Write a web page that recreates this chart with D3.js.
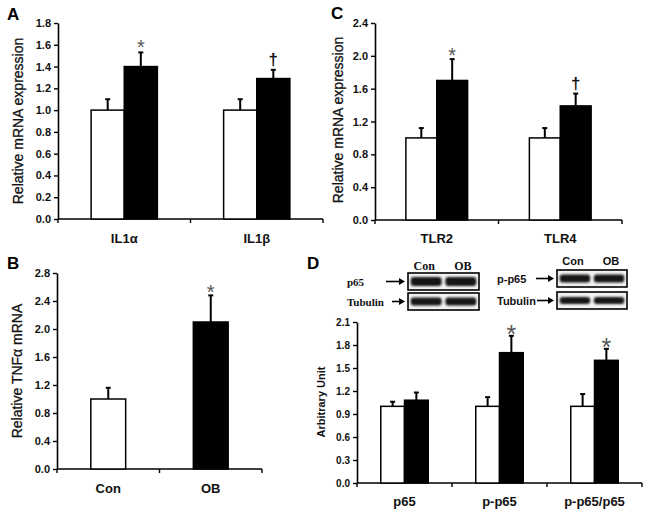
<!DOCTYPE html>
<html><head><meta charset="utf-8">
<script src="https://cdn.jsdelivr.net/npm/d3@7/dist/d3.min.js"></script>
<style>
html,body{margin:0;padding:0;background:#fff;}
svg{display:block;font-family:"Liberation Sans",Arial,sans-serif;}
</style></head>
<body>
<svg id="fig" width="649" height="517"></svg>
<script>
// ---------- DATA ----------
const groups = ["Con", "OB"];

// Panel A
const aCategories = ["IL1α", "IL1β"];
const aCon = [1.0, 1.0];
const aConErr = [0.10, 0.10];
const aOB = [1.40, 1.29];
const aOBErr = [0.13, 0.08];
const aMarks = ["*", "†"];
const aTicks = [0, 0.2, 0.4, 0.6, 0.8, 1.0, 1.2, 1.4, 1.6, 1.8];

// Panel B
const bCategories = ["Con", "OB"];
const bValues = [1.0, 2.1];
const bErr = [0.16, 0.38];
const bMarks = ["", "*"];
const bTicks = [0, 0.4, 0.8, 1.2, 1.6, 2.0, 2.4, 2.8];

// Panel C
const cCategories = ["TLR2", "TLR4"];
const cCon = [1.0, 1.0];
const cConErr = [0.12, 0.12];
const cOB = [1.70, 1.39];
const cOBErr = [0.26, 0.15];
const cMarks = ["*", "†"];
const cTicks = [0, 0.4, 0.8, 1.2, 1.6, 2.0, 2.4];

// Panel D
const dCategories = ["p65", "p-p65", "p-p65/p65"];
const dCon = [1.0, 1.0, 1.0];
const dConErr = [0.06, 0.12, 0.16];
const dOB = [1.08, 1.70, 1.60];
const dOBErr = [0.10, 0.22, 0.15];
const dMarks = ["", "*", "*"];
const dTicks = [0, 0.3, 0.6, 0.9, 1.2, 1.5, 1.8, 2.1];

// Western blot rows
const blotLeftRows = ["p65", "Tubulin"];
const blotRightRows = ["p-p65", "Tubulin"];

// ---------- DRAW ----------
const svg = d3.select("#fig");
const defs = svg.append("defs");
defs.append("filter").attr("id", "blur").attr("x", "-20%").attr("y", "-60%").attr("width", "140%").attr("height", "220%")
  .append("feGaussianBlur").attr("stdDeviation", 1.2);

function panel(o) {
  const g = svg.append("g");
  const y = d3.scaleLinear().domain([0, o.ticks[o.ticks.length - 1]]).range([o.y1, o.y0]);
  const x = d3.scaleBand().domain(o.categories).range([o.x0, o.x1]);

  // y axis
  const ya = d3.axisLeft(y).tickValues(o.ticks).tickSize(4).tickSizeOuter(0).tickPadding(3)
    .tickFormat(d3.format(".1f"));
  const yg = g.append("g").attr("transform", `translate(${o.x0},0)`).call(ya);
  yg.select(".domain").attr("stroke-width", 1.6);
  yg.selectAll(".tick line").attr("stroke-width", 1.4);
  yg.selectAll("text").attr("font-size", o.tickFont).attr("font-weight", "bold")
    .attr("font-family", "Liberation Sans, Arial, sans-serif").attr("fill", "#111");

  // x axis line with ticks at band boundaries
  g.append("line").attr("x1", o.x0).attr("x2", o.x1).attr("y1", o.y1).attr("y2", o.y1)
    .attr("stroke", "#000").attr("stroke-width", 1.6);
  const bounds = o.categories.map(c => x(c)).concat([x(o.categories[o.categories.length - 1]) + x.bandwidth()]);
  g.selectAll(".xt").data(bounds).join("line").attr("x1", d => d).attr("x2", d => d)
    .attr("y1", o.y1).attr("y2", o.y1 + 4).attr("stroke", "#000").attr("stroke-width", 1.4);
  g.selectAll(".xl").data(o.categories).join("text")
    .attr("x", d => x(d) + x.bandwidth() / 2).attr("y", o.xLabelY)
    .attr("text-anchor", "middle").attr("font-size", 13).attr("font-weight", "bold").attr("fill", "#111")
    .text(d => d);

  // bars
  const bw = x.bandwidth() * o.barFrac;
  const bars = [];
  o.categories.forEach((c, i) => {
    o.series.forEach((s, j) => {
      const cx = x(c) + x.bandwidth() / 2 + (o.series.length === 1 ? -bw / 2 : (j - 1) * bw);
      bars.push({ x: cx, v: s.values[i], e: s.err[i], fill: s.fill ? s.fill[i] : s.color, mark: s.marks ? s.marks[i] : "" });
    });
  });
  const bg = g.append("g");
  bg.selectAll(".eb").data(bars).join("line")
    .attr("x1", d => d.x + bw / 2).attr("x2", d => d.x + bw / 2)
    .attr("y1", d => y(d.v)).attr("y2", d => y(d.v + d.e)).attr("stroke", "#000").attr("stroke-width", 2);
  bg.selectAll(".ec").data(bars).join("line")
    .attr("x1", d => d.x + bw / 2 - 2.5).attr("x2", d => d.x + bw / 2 + 2.5)
    .attr("y1", d => y(d.v + d.e)).attr("y2", d => y(d.v + d.e)).attr("stroke", "#000").attr("stroke-width", 2);
  bg.selectAll(".bar").data(bars).join("rect")
    .attr("x", d => d.x).attr("width", bw).attr("y", d => y(d.v)).attr("height", d => y(0) - y(d.v))
    .attr("fill", d => d.fill).attr("stroke", "#000").attr("stroke-width", 1.5);
  bg.selectAll(".mk").data(bars.filter(d => d.mark)).join("text")
    .attr("x", d => d.x + bw / 2)
    .attr("y", d => y(d.v + d.e) + (d.mark === "*" ? o.starDy : -5))
    .attr("text-anchor", "middle")
    .attr("font-size", d => d.mark === "*" ? o.starFont : 17).attr("font-weight", d => d.mark === "*" ? "normal" : "bold")
    .attr("fill", d => d.mark === "*" ? "#555" : "#111")
    .text(d => d.mark);

  // y title
  g.append("text").attr("transform", `translate(${o.titleX},${o.titleY}) rotate(-90)`)
    .attr("text-anchor", "middle").attr("font-size", o.titleFont).attr("font-weight", o.titleWeight || "normal")
    .attr("fill", "#111").attr("stroke", "#111").attr("stroke-width", o.titleWeight ? 0 : 0.3)
    .text(o.title);
  // panel letter
  g.append("text").attr("x", o.letterX).attr("y", o.letterY).attr("font-size", 17).attr("font-weight", "bold")
    .attr("fill", "#000").text(o.letter);
}

panel({ letter: "A", letterX: 7, letterY: 20, categories: aCategories, ticks: aTicks,
  x0: 58, x1: 323, y0: 23, y1: 219, barFrac: 0.25, tickFont: 11, xLabelY: 243,
  series: [{ values: aCon, err: aConErr, color: "#fff" }, { values: aOB, err: aOBErr, color: "#000", marks: aMarks }],
  starDy: 2, starFont: 20, title: "Relative mRNA expression", titleX: 23, titleY: 121, titleFont: 14 });

panel({ letter: "C", letterX: 331, letterY: 19, categories: cCategories, ticks: cTicks,
  x0: 375, x1: 622, y0: 23, y1: 220, barFrac: 0.25, tickFont: 11, xLabelY: 243,
  series: [{ values: cCon, err: cConErr, color: "#fff" }, { values: cOB, err: cOBErr, color: "#000", marks: cMarks }],
  starDy: 3, starFont: 20, title: "Relative mRNA expression", titleX: 343, titleY: 120, titleFont: 14 });

panel({ letter: "B", letterX: 7, letterY: 269, categories: bCategories, ticks: bTicks,
  x0: 57, x1: 262, y0: 273, y1: 469, barFrac: 0.34, tickFont: 11, xLabelY: 493,
  series: [{ values: bValues, err: bErr, fill: ["#fff", "#000"], marks: bMarks }],
  starDy: 4, starFont: 20, title: "Relative TNFα mRNA", titleX: 22, titleY: 371, titleFont: 14 });

panel({ letter: "D", letterX: 307, letterY: 269, categories: dCategories, ticks: dTicks,
  x0: 357, x1: 642, y0: 322, y1: 483, barFrac: 0.25, tickFont: 10, xLabelY: 506,
  series: [{ values: dCon, err: dConErr, color: "#fff" }, { values: dOB, err: dOBErr, color: "#000", marks: dMarks }],
  starDy: 7, starFont: 25, title: "Arbitrary Unit", titleX: 325, titleY: 402, titleFont: 11, titleWeight: "bold" });

// ---------- WESTERN BLOTS ----------
function blot(o) {
  const g = svg.append("g");
  const lane = d3.scaleBand().domain(groups).range([o.x0, o.x1]).padding(0.05);
  g.selectAll(".ln").data(groups).join("text")
    .attr("x", d => lane(d) + lane.bandwidth() / 2 + (d === "OB" ? 2 : -2)).attr("y", o.headY)
    .attr("text-anchor", "middle").attr("font-family", o.font).attr("font-weight", "bold")
    .attr("font-size", o.headFont).attr("fill", "#111").text(d => d);
  o.rows.forEach((r, i) => {
    const top = o.rowTops[i], h = o.rowH;
    g.append("rect").attr("x", o.x0).attr("y", top).attr("width", o.x1 - o.x0).attr("height", h)
      .attr("fill", "#f2f2f2").attr("stroke", "#000").attr("stroke-width", 1.6);
    g.selectAll(".band" + i).data(groups).join("rect")
      .attr("x", d => lane(d) + 1).attr("width", lane.bandwidth() - 2)
      .attr("y", top + h / 2 - o.bandH[i] / 2).attr("height", o.bandH[i]).attr("rx", 3)
      .attr("fill", "#151515").attr("filter", "url(#blur)");
    g.append("text").attr("x", o.labelX).attr("y", top + h / 2 + 4)
      .attr("font-family", o.font).attr("font-weight", "bold").attr("font-size", o.labFont).attr("fill", "#111").text(r);
    const ax1 = o.arrowStart[i], ax2 = o.x0 - 3, ay = top + h / 2;
    g.append("line").attr("x1", ax1).attr("x2", ax2 - 4).attr("y1", ay).attr("y2", ay).attr("stroke", "#000").attr("stroke-width", 1.6);
    g.append("path").attr("d", `M${ax2},${ay} L${ax2 - 6},${ay - 3.5} L${ax2 - 6},${ay + 3.5} Z`).attr("fill", "#000");
  });
}

blot({ rows: blotLeftRows, x0: 408, x1: 479, rowTops: [273, 293], rowH: 17, bandH: [9, 8],
  headY: 270, headFont: 12, labFont: 11, labelX: 347, arrowStart: [386, 392],
  font: "Liberation Serif, Times New Roman, serif" });
blot({ rows: blotRightRows, x0: 557, x1: 627, rowTops: [270, 292], rowH: 17, bandH: [8, 7],
  headY: 265, headFont: 11, labFont: 11, labelX: 497, arrowStart: [536, 537],
  font: "Liberation Sans, Arial, sans-serif" });
</script>
</body></html>
